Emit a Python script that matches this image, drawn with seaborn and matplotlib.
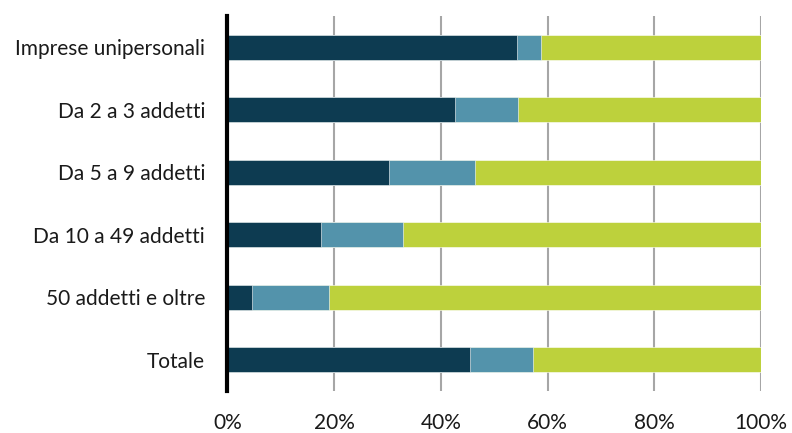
import numpy as np
import pandas as pd
import matplotlib
matplotlib.use("Agg")
import matplotlib.pyplot as plt
import seaborn as sns

categories = ["Imprese unipersonali", "Da 2 a 3 addetti", "Da 5 a 9 addetti",
              "Da 10 a 49 addetti", "50 addetti e oltre", "Totale"]
serie_1 = [54.3, 42.7, 30.2, 17.6, 4.6, 45.5]
serie_2 = [4.5, 11.7, 16.2, 15.3, 14.5, 11.8]
serie_3 = [41.2, 45.6, 53.6, 67.1, 80.9, 42.7]
x_ticks = [0, 20, 40, 60, 80, 100]
x_tick_labels = ["0%", "20%", "40%", "60%", "80%", "100%"]

colors = ["#0D3B51", "#5393AB", "#BDD13C"]

sns.set_theme(style="white")
plt.rcParams["font.family"] = ["Lato", "DejaVu Sans"]

df = pd.DataFrame({"cat": categories, "s1": serie_1, "s2": serie_2, "s3": serie_3})
df["c1"] = df["s1"]
df["c2"] = df["s1"] + df["s2"]
df["c3"] = df["s1"] + df["s2"] + df["s3"]

fig = plt.figure(figsize=(7.92, 4.33), dpi=100)
ax = fig.add_axes([0.287, 0.097, 0.674, 0.866])

ax.grid(axis="x", color="#A6A6A6", linewidth=1.5)
ax.set_axisbelow(True)

for col, color in zip(["c3", "c2", "c1"], colors[::-1]):
    sns.barplot(data=df, x=col, y="cat", orient="h", color=color, width=0.4,
                edgecolor="white", linewidth=0.4, saturation=1, ax=ax, zorder=2)

ax.set_xlim(0, 100)
ax.set_ylim(5.5, -0.5)
ax.set_xticks(x_ticks)
ax.set_xticklabels(x_tick_labels)
ax.set_xlabel("")
ax.set_ylabel("")
ax.tick_params(axis="x", length=0, pad=16, labelsize=15, labelcolor="#1a1a1a")
ax.tick_params(axis="y", length=0, pad=16, labelsize=15, labelcolor="#1a1a1a")

for side in ["top", "right", "bottom"]:
    ax.spines[side].set_visible(False)
ax.spines["left"].set_color("black")
ax.spines["left"].set_linewidth(3)
ax.spines["left"].set_zorder(5)

fig.savefig("out.png", dpi=100)
